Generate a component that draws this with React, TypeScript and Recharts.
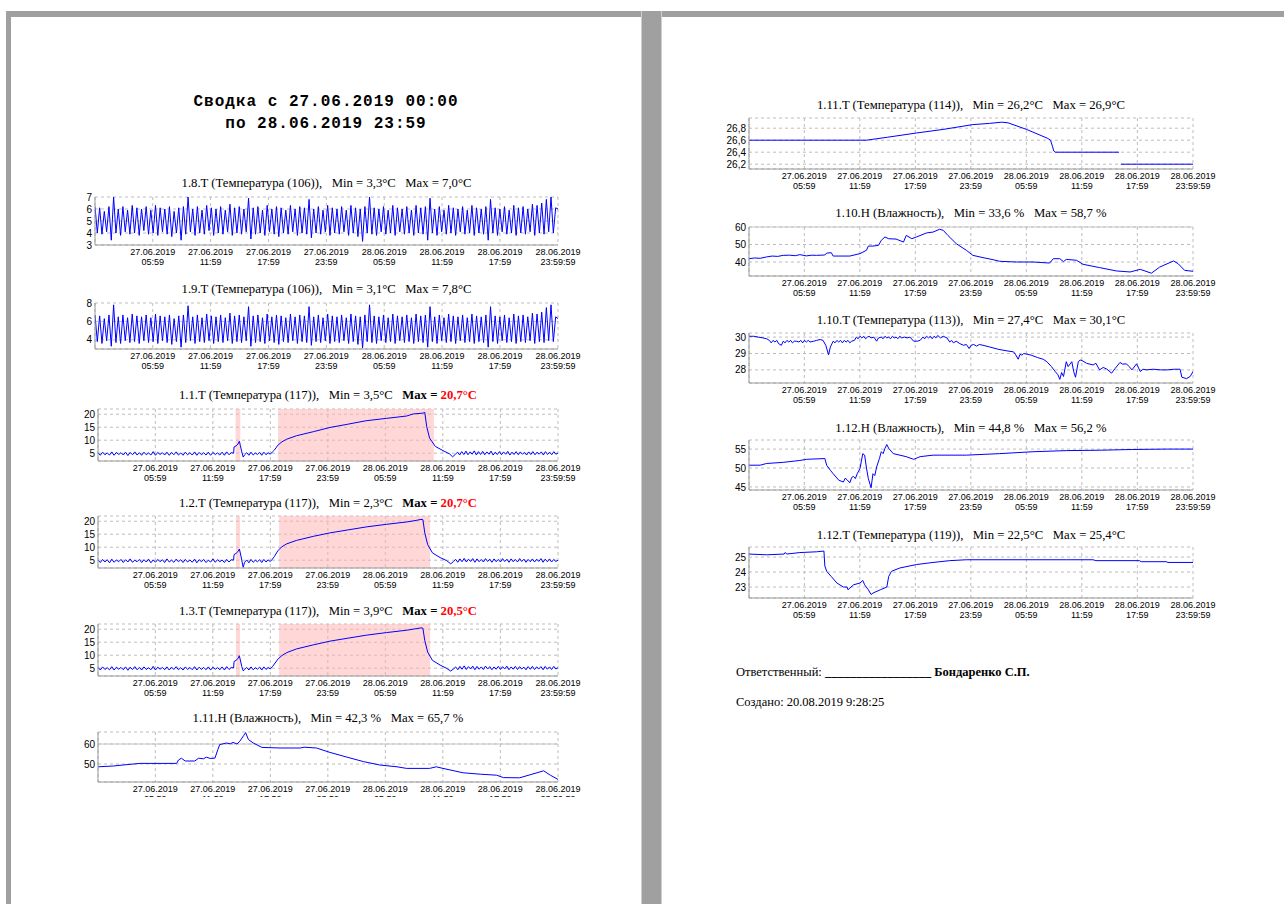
import React from "react";
import {
  LineChart,
  Line,
  XAxis,
  YAxis,
  CartesianGrid,
  ReferenceArea,
  ReferenceLine,
} from "recharts";

// x axis: hours since 27.06.2019 00:00
const tickHours = [5.983, 11.983, 17.983, 23.983, 29.983, 35.983, 41.983, 48];
const tickDates = [
  "27.06.2019", "27.06.2019", "27.06.2019", "27.06.2019",
  "28.06.2019", "28.06.2019", "28.06.2019", "28.06.2019",
];
const tickTimes = ["05:59", "11:59", "17:59", "23:59", "05:59", "11:59", "17:59", "23:59:59"];

// 1.8.T, evenly spaced over 48 h (peak / trough pairs)
const t18Values = [
  6.2, 4.0, 6.1, 3.9, 5.8, 4.1, 6.2, 3.4, 7.0, 4.0, 6.0, 3.8, 6.2, 4.1, 5.9, 3.9, 6.3, 4.0, 6.1, 3.8,
  6.0, 4.2, 6.2, 3.9, 5.9, 4.0, 6.3, 3.8, 6.1, 4.1, 6.0, 3.9, 6.2, 3.7, 5.8, 4.0, 6.1, 3.4, 6.2, 3.9,
  7.0, 4.1, 6.0, 3.8, 6.2, 4.0, 5.9, 3.9, 6.3, 4.2, 6.1, 3.8, 6.0, 4.0, 6.2, 3.9, 5.9, 4.1, 6.4, 3.8,
  6.1, 4.0, 6.2, 3.9, 6.0, 4.1, 6.9, 3.5, 6.1, 3.9, 6.2, 4.0, 5.9, 3.8, 6.3, 4.1, 6.0, 3.9, 6.2, 3.7,
  6.1, 4.0, 5.9, 3.9, 6.3, 4.1, 6.0, 3.8, 6.2, 4.0, 6.1, 3.9, 6.8, 3.6, 6.0, 4.0, 6.2, 3.9, 5.9, 4.1,
  6.3, 3.8, 6.1, 4.0, 6.0, 3.9, 6.2, 4.1, 5.9, 3.8, 6.3, 4.0, 6.1, 3.7, 6.0, 3.3, 6.2, 4.0, 7.0, 3.9,
  6.1, 3.8, 6.0, 4.1, 6.2, 3.9, 5.9, 4.0, 6.3, 3.8, 6.1, 4.1, 6.0, 3.9, 6.2, 4.0, 5.9, 3.8, 6.3, 4.0,
  6.1, 3.9, 6.2, 3.4, 6.9, 4.0, 6.0, 3.8, 6.2, 4.1, 5.9, 3.9, 6.3, 4.0, 6.1, 3.8, 6.0, 4.1, 6.2, 3.9,
  5.9, 4.0, 6.3, 3.8, 6.1, 4.0, 6.0, 3.9, 6.2, 3.4, 6.8, 4.0, 6.1, 3.8, 6.0, 4.1, 6.2, 3.9, 5.9, 4.0,
  6.3, 3.8, 6.1, 4.0, 6.2, 3.9, 6.0, 4.1, 6.4, 3.8, 6.3, 4.0, 6.5, 3.9, 6.8, 4.1, 7.0, 4.0, 6.1, 6.0,
];

// 1.9.T, evenly spaced over 48 h
const t19Values = [
  6.7, 3.8, 6.6, 3.6, 6.3, 3.9, 6.7, 3.3, 7.8, 3.7, 6.5, 3.6, 6.7, 3.9, 6.4, 3.7, 6.8, 3.8, 6.6, 3.6,
  6.5, 3.9, 6.7, 3.7, 6.4, 3.8, 6.8, 3.6, 6.6, 3.9, 6.5, 3.7, 6.7, 3.5, 6.3, 3.8, 6.6, 3.2, 6.7, 3.7,
  7.7, 3.9, 6.5, 3.6, 6.7, 3.8, 6.4, 3.7, 6.8, 3.9, 6.6, 3.6, 6.5, 3.8, 6.7, 3.7, 6.4, 3.9, 6.9, 3.6,
  6.6, 3.8, 6.7, 3.7, 6.5, 3.9, 7.6, 3.3, 6.6, 3.7, 6.7, 3.8, 6.4, 3.6, 6.8, 3.9, 6.5, 3.7, 6.7, 3.5,
  6.6, 3.8, 6.4, 3.7, 6.8, 3.9, 6.5, 3.6, 6.7, 3.8, 6.6, 3.7, 7.6, 3.4, 6.5, 3.8, 6.7, 3.7, 6.4, 3.9,
  6.8, 3.6, 6.6, 3.8, 6.5, 3.7, 6.7, 3.9, 6.4, 3.6, 6.8, 3.8, 6.6, 3.5, 6.5, 3.1, 6.7, 3.8, 7.8, 3.7,
  6.6, 3.6, 6.5, 3.9, 6.7, 3.7, 6.4, 3.8, 6.8, 3.6, 6.6, 3.9, 6.5, 3.7, 6.7, 3.8, 6.4, 3.6, 6.8, 3.8,
  6.6, 3.7, 6.7, 3.2, 7.6, 3.8, 6.5, 3.6, 6.7, 3.9, 6.4, 3.7, 6.8, 3.8, 6.6, 3.6, 6.5, 3.9, 6.7, 3.7,
  6.4, 3.8, 6.8, 3.6, 6.6, 3.8, 6.5, 3.7, 6.7, 3.2, 7.6, 3.8, 6.6, 3.6, 6.5, 3.9, 6.7, 3.7, 6.4, 3.8,
  6.8, 3.6, 6.6, 3.8, 6.7, 3.7, 6.5, 3.9, 6.9, 3.6, 6.8, 3.8, 7.0, 3.7, 7.5, 3.9, 7.8, 3.8, 6.5, 6.3,
];

// 1.1.T
const t11Morning = [
  5.2, 4.2, 5.4, 4.4, 5.1, 4.3, 5.5, 4.2, 5.3, 4.5, 5.2, 4.3, 5.4, 4.1, 5.3, 4.4, 5.5, 4.3, 5.2, 4.2,
  5.4, 4.4, 5.1, 4.3, 5.6, 4.2, 5.3, 4.5, 5.2, 4.3, 5.4, 4.2, 5.3, 4.4, 5.5, 4.3, 5.1, 4.2, 5.4, 4.4,
  5.2, 4.3, 5.5, 4.2, 5.3, 4.4, 5.2, 4.3, 5.4, 4.2, 5.3, 4.5, 5.1, 4.3, 5.4, 4.2, 5.5, 4.4, 5.2, 5.0,
];
const t11Spike: [number, number][] = [
  [14.2, 7.4], [14.4, 7.8], [14.6, 8.5], [14.75, 9.6], [14.85, 8.0], [15.0, 5.5], [15.15, 3.5],
];
const t11Midday = [4.4, 5.2, 4.2, 5.4, 4.3, 5.1, 4.5, 5.3, 4.2, 5.4, 4.4, 5.2, 4.6, 5.5];
const t11Heat: [number, number][] = [
  [18.4, 6.2], [18.8, 8.2], [19.2, 9.4], [19.7, 10.4], [20.7, 11.7], [22.5, 13.3], [24.2, 14.9],
  [26.0, 16.1], [28.0, 17.5], [30.1, 18.4], [32.2, 19.3], [32.9, 20.1], [33.9, 20.4], [34.1, 20.7],
  [34.3, 15.2], [34.6, 10.8], [35.2, 7.6], [36.0, 6.0], [36.7, 4.7], [37.0, 3.6],
];
const t11Late = [
  4.6, 5.4, 4.3, 5.6, 4.5, 5.8, 4.4, 5.5, 4.6, 5.9, 4.3, 5.6, 4.5, 5.7, 4.4, 5.5, 4.6, 5.8, 4.3, 5.4,
  4.5, 5.6, 4.4, 5.5, 4.6, 5.7, 4.3, 5.4, 4.5, 5.6, 4.4, 5.5, 4.6, 5.3, 4.3, 5.5, 4.5, 5.6, 4.4, 5.4,
  4.6, 5.5, 4.3, 5.6, 4.5, 5.4, 4.4, 5.6, 4.6, 5.1,
];

// 1.2.T
const t12Morning = [
  5.0, 4.1, 5.3, 4.3, 5.2, 4.0, 5.4, 4.2, 5.1, 4.4, 5.3, 4.1, 5.2, 4.3, 5.5, 4.2, 5.0, 4.4, 5.3, 4.1,
  5.2, 4.3, 5.4, 4.0, 5.1, 4.2, 5.3, 4.4, 5.2, 4.1, 5.5, 4.3, 5.0, 4.2, 5.4, 4.4, 5.2, 4.1, 5.3, 4.3,
  5.1, 4.2, 5.4, 4.0, 5.2, 4.4, 5.3, 4.1, 5.0, 4.3, 5.5, 4.2, 5.2, 4.4, 5.1, 4.1, 5.3, 4.3, 5.2, 5.0,
];
const t12Spike: [number, number][] = [
  [14.2, 7.2], [14.4, 7.6], [14.6, 8.3], [14.75, 9.3], [14.85, 7.8], [15.0, 5.0], [15.15, 2.3],
];
const t12Midday = [4.2, 5.1, 4.0, 5.3, 4.2, 5.0, 4.4, 5.2, 4.1, 5.3, 4.3, 5.1, 4.5, 5.4];
const t12Heat: [number, number][] = [
  [18.4, 6.4], [18.8, 8.8], [19.2, 10.2], [19.7, 11.3], [20.7, 12.6], [22.5, 14.2], [24.2, 15.5],
  [26.0, 16.6], [28.0, 17.8], [30.1, 18.8], [32.2, 19.7], [33.2, 20.3], [33.7, 20.7], [33.9, 20.6],
  [34.1, 15.5], [34.4, 11.0], [34.9, 7.8], [35.7, 6.0], [36.4, 4.8], [36.8, 3.6],
];
const t12Late = [
  4.5, 5.3, 4.2, 5.5, 4.4, 5.7, 4.3, 5.4, 4.5, 5.6, 4.2, 5.5, 4.4, 5.3, 4.3, 5.6, 4.5, 5.4, 4.2, 5.5,
  4.4, 5.3, 4.3, 5.6, 4.5, 5.4, 4.2, 5.5, 4.4, 5.3, 4.3, 5.6, 4.5, 5.4, 4.2, 5.3, 4.4, 5.5, 4.3, 5.4,
  4.5, 5.6, 4.2, 5.4, 4.4, 5.5, 4.3, 5.3, 4.5, 5.0,
];

// 1.3.T
const t13Morning = [
  5.3, 4.3, 5.5, 4.5, 5.2, 4.4, 5.6, 4.3, 5.4, 4.6, 5.3, 4.4, 5.5, 4.2, 5.4, 4.5, 5.6, 4.4, 5.3, 4.3,
  5.5, 4.5, 5.2, 4.4, 5.7, 4.3, 5.4, 4.6, 5.3, 4.4, 5.5, 4.3, 5.4, 4.5, 5.6, 4.4, 5.2, 4.3, 5.5, 4.5,
  5.3, 4.4, 5.6, 4.3, 5.4, 4.5, 5.3, 4.4, 5.5, 4.3, 5.4, 4.6, 5.2, 4.4, 5.5, 4.3, 5.6, 4.5, 5.3, 5.1,
];
const t13Spike: [number, number][] = [
  [14.2, 7.6], [14.4, 8.0], [14.6, 8.7], [14.75, 9.8], [14.85, 8.2], [15.0, 5.6], [15.15, 4.0],
];
const t13Midday = [4.5, 5.3, 4.3, 5.5, 4.4, 5.2, 4.6, 5.4, 4.3, 5.5, 4.5, 5.3, 4.7, 5.6];
const t13Heat: [number, number][] = [
  [18.4, 6.6], [18.8, 8.6], [19.2, 9.9], [19.7, 11.0], [20.7, 12.4], [22.5, 14.0], [24.2, 15.4],
  [26.0, 16.5], [28.0, 17.7], [30.1, 18.7], [32.2, 19.6], [33.2, 20.2], [33.7, 20.5], [33.9, 20.4],
  [34.1, 15.6], [34.4, 11.2], [34.9, 8.0], [35.7, 6.2], [36.4, 4.9], [36.8, 3.9],
];
const t13Late = [
  4.7, 5.5, 4.4, 5.7, 4.6, 5.9, 4.5, 5.6, 4.7, 5.8, 4.4, 5.7, 4.6, 5.5, 4.5, 5.8, 4.7, 5.6, 4.4, 5.5,
  4.6, 5.7, 4.5, 5.6, 4.7, 5.8, 4.4, 5.5, 4.6, 5.7, 4.5, 5.6, 4.7, 5.4, 4.4, 5.6, 4.6, 5.7, 4.5, 5.5,
  4.7, 5.6, 4.4, 5.7, 4.6, 5.5, 4.5, 5.7, 4.7, 5.2,
];

// 1.11.H  [hour, %]
const h111Points: [number, number][] = [
  [0, 48.6], [1.6, 49.0], [2.6, 49.5], [4.4, 50.3], [8.2, 50.3], [8.4, 52.0], [8.7, 52.9], [9.1, 51.5],
  [10.1, 51.5], [10.5, 52.9], [11.0, 52.6], [11.3, 53.4], [11.7, 52.8], [12.2, 52.9], [12.5, 57.1],
  [12.7, 59.7], [13.4, 60.5], [13.8, 60.1], [14.1, 60.8], [14.5, 60.0], [14.8, 61.4], [15.2, 64.2],
  [15.4, 65.7], [15.7, 62.2], [16.2, 60.5], [17.1, 58.3], [19.0, 58.0], [21.1, 58.0], [21.5, 58.4],
  [22.8, 58.0], [24.2, 55.8], [26.0, 53.4], [27.7, 51.2], [29.4, 49.5], [31.2, 48.6], [32.2, 47.8],
  [34.6, 47.8], [35.3, 48.6], [36.0, 47.8], [38.1, 45.6], [39.9, 44.9], [41.6, 44.4], [42.3, 43.2],
  [44.0, 43.1], [45.8, 45.6], [46.5, 46.6], [47.2, 44.4], [48.0, 42.3],
];

// 1.11.T  [hour, °C], null = no data
const t111Points: [number, number | null][] = [
  [0, 26.6], [12.7, 26.6], [15.0, 26.65], [18.1, 26.72], [21.0, 26.78], [24.2, 26.86], [26.0, 26.88],
  [27.3, 26.9], [28.0, 26.89], [30.0, 26.78], [32.3, 26.63], [32.6, 26.6], [32.8, 26.5], [32.95, 26.42],
  [33.1, 26.4], [40.0, 26.4], [40.1, null], [40.2, 26.2], [48.0, 26.2],
];

// 1.10.H
const h110Points: [number, number][] = [
  [0, 41.9], [0.6, 42.3], [1.2, 42.1], [1.9, 42.9], [2.5, 43.4], [3.1, 43.2], [3.7, 43.8], [4.4, 43.9],
  [5.0, 43.6], [5.5, 44.2], [6.2, 43.5], [6.8, 43.9], [7.3, 43.8], [8.2, 44.0], [8.4, 45.1], [8.9, 45.3],
  [9.1, 43.4], [10.9, 43.4], [12.0, 44.8], [12.7, 46.7], [12.9, 49.1], [13.4, 49.1], [14.0, 49.5],
  [14.3, 52.4], [14.7, 54.3], [15.1, 53.3], [15.9, 53.1], [16.7, 51.4], [17.0, 55.2], [17.6, 53.3],
  [18.1, 54.3], [19.2, 56.6], [19.9, 57.1], [20.6, 58.7], [21.0, 58.1], [21.5, 55.2], [22.4, 50.5],
  [23.5, 46.7], [24.2, 43.8], [25.3, 42.5], [26.4, 41.3], [27.1, 40.4], [28.9, 40.0], [30.7, 40.0],
  [32.5, 39.4], [32.9, 41.9], [33.6, 41.9], [34.0, 40.2], [34.3, 41.5], [35.4, 41.0], [36.1, 38.7],
  [37.9, 36.8], [39.7, 34.9], [41.2, 34.3], [42.3, 35.8], [43.5, 33.6], [44.4, 37.1], [45.9, 40.6],
  [46.4, 39.0], [47.1, 35.2], [48.0, 34.7],
];

// 1.10.T
const t110Points: [number, number][] = [
  [0, 30.05], [0.5, 30.05], [1.0, 30.0], [1.5, 29.95], [1.9, 29.9], [2.2, 29.8], [2.4, 29.65], [2.6, 29.8],
  [2.8, 29.7], [3.0, 29.8], [3.2, 29.6], [3.5, 29.5], [3.7, 29.75], [3.9, 29.65], [4.1, 29.8], [4.3, 29.7],
  [4.5, 29.8], [4.7, 29.65], [4.9, 29.75], [5.1, 29.75], [5.4, 29.7], [5.6, 29.8], [5.8, 29.65], [6.0, 29.8],
  [6.2, 29.7], [6.4, 29.8], [6.6, 29.7], [7.0, 29.75], [7.3, 29.8], [7.7, 29.85], [8.0, 29.8], [8.3, 29.5],
  [8.6, 28.92], [8.8, 29.4], [9.1, 29.75], [9.3, 29.65], [9.5, 29.8], [9.7, 29.7], [9.9, 29.8], [10.1, 29.65],
  [10.3, 29.8], [10.5, 29.7], [10.7, 29.8], [10.9, 29.65], [11.1, 29.75], [11.4, 29.8], [11.6, 30.0],
  [11.8, 29.9], [12.0, 30.05], [12.2, 29.95], [12.4, 30.05], [12.6, 29.9], [12.8, 30.0], [13.0, 30.05],
  [13.2, 29.95], [13.5, 30.0], [13.8, 29.75], [14.0, 29.95], [14.3, 30.0], [14.5, 29.9], [14.7, 30.05],
  [14.9, 29.95], [15.1, 30.0], [15.3, 29.9], [15.5, 30.05], [15.7, 29.95], [15.9, 30.0], [16.1, 29.9],
  [16.3, 30.05], [16.5, 29.95], [16.8, 30.0], [17.1, 29.95], [17.4, 30.0], [17.8, 29.75], [18.2, 29.75],
  [18.5, 29.8], [18.8, 30.0], [19.0, 29.9], [19.2, 30.05], [19.4, 29.95], [19.6, 30.05], [19.8, 29.9],
  [20.0, 30.05], [20.2, 29.95], [20.4, 30.1], [20.7, 29.95], [21.0, 30.05], [21.4, 29.95], [21.7, 29.7],
  [21.9, 29.8], [22.1, 29.65], [22.4, 29.75], [22.8, 29.6], [23.2, 29.5], [23.5, 29.55], [23.8, 29.3],
  [24.0, 29.5], [24.3, 29.55], [24.6, 29.45], [24.9, 29.55], [25.3, 29.5], [26.0, 29.4], [27.0, 29.25],
  [28.0, 29.15], [28.6, 29.1], [28.8, 28.95], [29.1, 28.65], [29.3, 28.95], [29.5, 28.9], [29.7, 29.0],
  [30.5, 28.9], [31.2, 28.75], [31.8, 28.65], [32.2, 28.5], [32.7, 28.2], [33.1, 27.9], [33.4, 27.7],
  [33.6, 27.42], [33.8, 27.84], [34.0, 27.6], [34.3, 28.5], [34.5, 28.2], [34.9, 28.5], [35.1, 27.9],
  [35.3, 27.55], [35.6, 28.5], [35.8, 28.6], [36.0, 28.57], [36.5, 28.4], [37.2, 28.3], [37.5, 28.4],
  [37.9, 28.0], [38.3, 28.15], [38.7, 28.04], [39.2, 27.8], [39.6, 28.1], [40.1, 28.45], [40.4, 28.35],
  [40.8, 28.37], [41.1, 28.2], [41.4, 28.0], [41.9, 28.37], [42.3, 27.9], [42.6, 28.04], [43.0, 28.0],
  [43.7, 28.04], [44.5, 28.0], [45.2, 28.0], [46.0, 28.04], [46.6, 28.04], [46.8, 27.55], [47.3, 27.47],
  [47.7, 27.6], [48.0, 27.9],
];

// 1.12.H
const h112Points: [number, number][] = [
  [0, 50.75], [1.2, 50.75], [1.9, 51.2], [3.7, 51.5], [5.5, 52.0], [6.2, 52.3], [8.2, 52.5], [8.4, 50.75],
  [8.8, 49.4], [9.1, 48.5], [9.7, 46.8], [10.2, 46.3], [10.4, 47.3], [10.6, 46.9], [10.9, 46.1],
  [11.1, 47.5], [11.3, 47.8], [11.5, 47.2], [11.7, 48.5], [12.0, 49.9], [12.3, 53.8], [12.5, 53.4],
  [12.7, 50.0], [12.9, 47.2], [13.2, 44.8], [13.4, 48.5], [13.6, 48.0], [13.8, 50.3], [14.1, 52.5],
  [14.3, 54.3], [14.5, 53.8], [14.7, 55.2], [14.9, 56.2], [15.1, 55.2], [15.6, 53.8], [17.0, 53.0],
  [17.8, 52.3], [18.5, 53.0], [19.9, 53.4], [23.5, 53.4], [27.1, 53.8], [30.7, 54.3], [34.3, 54.6],
  [37.9, 54.7], [41.5, 54.9], [45.1, 55.0], [48.0, 55.0],
];

// 1.12.T
const t112Points: [number, number][] = [
  [0, 25.2], [1.9, 25.15], [3.8, 25.2], [3.9, 25.3], [4.1, 25.2], [5.5, 25.3], [7.3, 25.35], [8.1, 25.4],
  [8.2, 24.4], [8.4, 24.05], [8.9, 23.7], [9.5, 23.27], [10.2, 23.0], [10.6, 23.0], [10.7, 22.82],
  [11.3, 23.15], [12.0, 23.27], [12.3, 23.44], [12.5, 23.15], [12.9, 22.82], [13.2, 22.5], [13.4, 22.6],
  [14.2, 22.82], [14.9, 23.0], [15.1, 23.7], [15.4, 24.05], [16.3, 24.27], [18.1, 24.5], [19.9, 24.64],
  [21.7, 24.76], [23.5, 24.82], [30.7, 24.82], [34.3, 24.82], [37.2, 24.82], [37.5, 24.76], [42.2, 24.76],
  [42.4, 24.69], [45.1, 24.69], [45.3, 24.64], [48.0, 24.64],
];

type Pt = { t: number; v: number | null };

const spread = (values: number[], t0: number, t1: number): Pt[] =>
  values.map((v, i) => ({ t: t0 + ((t1 - t0) * i) / (values.length - 1), v }));
const pairs = (list: [number, number | null][]): Pt[] => list.map(([t, v]) => ({ t, v }));

const data18 = spread(t18Values, 0, 48);
const data19 = spread(t19Values, 0, 48);
const data11 = [
  ...spread(t11Morning, 0, 14.15), ...pairs(t11Spike), ...spread(t11Midday, 15.3, 18.2),
  ...pairs(t11Heat), ...spread(t11Late, 37.3, 48),
];
const data12 = [
  ...spread(t12Morning, 0, 14.15), ...pairs(t12Spike), ...spread(t12Midday, 15.3, 18.2),
  ...pairs(t12Heat), ...spread(t12Late, 37.1, 48),
];
const data13 = [
  ...spread(t13Morning, 0, 14.15), ...pairs(t13Spike), ...spread(t13Midday, 15.3, 18.2),
  ...pairs(t13Heat), ...spread(t13Late, 37.1, 48),
];

const SANS = "'Liberation Sans', Arial, sans-serif";
const SERIF = "'Liberation Serif', 'Times New Roman', serif";
const GRAY = "#a0a0a0";

function TimeTick(props: any) {
  const { x, y, payload } = props;
  const i = tickHours.indexOf(payload.value);
  return (
    <text x={x} y={y} textAnchor="middle" fontSize={9} fill="#000" fontFamily={SANS}>
      <tspan x={x} dy={10}>{tickDates[i]}</tspan>
      <tspan x={x} dy={10}>{tickTimes[i]}</tspan>
    </text>
  );
}

interface MiniProps {
  data: Pt[];
  domain: [number, number];
  yTicks: number[];
  plotLeft: number;
  plotRight: number;
  plotTop: number;
  plotBottom: number;
  areas?: [number, number][];
  limit?: number;
}

function MiniChart({ data, domain, yTicks, plotLeft, plotRight, plotTop, plotBottom, areas = [], limit }: MiniProps) {
  const axisW = 36;
  const left = plotLeft - axisW;
  const width = plotRight - left + 30;
  const height = plotBottom - plotTop + 5 + 24;
  return (
    <div style={{ position: "absolute", left, top: plotTop - 5 }}>
      <LineChart width={width} height={height} data={data} margin={{ top: 5, right: 30, bottom: 0, left: 0 }}>
        <CartesianGrid stroke="#bdbdbd" strokeDasharray="3 3" />
        {areas.map(([a, b]) => (
          <ReferenceArea key={a} x1={a} x2={b} fill="#ffb0b0" fillOpacity={0.5} stroke="none" ifOverflow="hidden" />
        ))}
        {limit !== undefined && <ReferenceLine y={limit} stroke="#c4c4c4" />}
        <XAxis
          type="number"
          dataKey="t"
          domain={[0, 48]}
          ticks={tickHours}
          interval={0}
          tickLine={false}
          tickSize={0}
          tickMargin={0}
          height={24}
          axisLine={{ stroke: "#999" }}
          tick={(p: any) => <TimeTick {...p} />}
          allowDataOverflow
        />
        <YAxis
          type="number"
          domain={domain}
          ticks={yTicks}
          interval={0}
          width={axisW}
          tickLine={false}
          tickSize={0}
          tickMargin={3}
          axisLine={{ stroke: "#999" }}
          tick={{ fontSize: 10, fill: "#000", fontFamily: SANS }}
          tickFormatter={(v: number) => String(v).replace(".", ",")}
          allowDataOverflow
        />
        <Line
          type="linear"
          dataKey="v"
          stroke="#0000ff"
          strokeWidth={1}
          dot={false}
          isAnimationActive={false}
          connectNulls={false}
        />
      </LineChart>
    </div>
  );
}

function Title({ y, left, right, children }: { y: number; left: number; right: number; children: React.ReactNode }) {
  return (
    <div
      style={{
        position: "absolute",
        left,
        width: right - left,
        top: y - 8,
        lineHeight: "16px",
        textAlign: "center",
        fontFamily: SERIF,
        fontSize: 12.7,
        whiteSpace: "pre",
        color: "#000",
      }}
    >
      {children}
    </div>
  );
}

function HotMax({ value }: { value: string }) {
  return (
    <b>
      Max = <span style={{ color: "#ff0000" }}>{value}°C</span>
    </b>
  );
}

export default function App() {
  const L0 = 98;
  const L1 = 558;
  const R0 = 749;
  const R1 = 1193;
  return (
    <div style={{ position: "absolute", left: 0, top: 0, width: 1284, height: 904, background: "#fff", overflow: "hidden" }}>
      {/* grey frame between the two pages */}
      <div style={{ position: "absolute", left: 6, top: 11, width: 1278, height: 6, background: GRAY }} />
      <div style={{ position: "absolute", left: 6, top: 11, width: 5, height: 893, background: GRAY }} />
      <div style={{ position: "absolute", left: 641, top: 11, width: 21, height: 893, background: GRAY, borderLeft: "1px solid #cfcfcf", borderRight: "1px solid #cfcfcf", boxSizing: "border-box" }} />

      {/* heading */}
      <div
        style={{
          position: "absolute",
          left: 11,
          width: 630,
          top: 91,
          textAlign: "center",
          fontFamily: "'Liberation Mono', 'Courier New', monospace",
          fontWeight: "bold",
          fontSize: 16,
          letterSpacing: 1,
          lineHeight: "22px",
          color: "#000",
        }}
      >
        <div>Сводка с 27.06.2019 00:00</div>
        <div>по 28.06.2019 23:59</div>
      </div>

      {/* left page */}
      <Title y={183} left={95} right={L1}>1.8.T (Температура (106)),   Min = 3,3°C   Max = 7,0°C</Title>
      <MiniChart data={data18} domain={[3, 7]} yTicks={[3, 4, 5, 6, 7]} plotLeft={95} plotRight={L1} plotTop={197} plotBottom={245} />

      <Title y={289} left={95} right={L1}>1.9.T (Температура (106)),   Min = 3,1°C   Max = 7,8°C</Title>
      <MiniChart data={data19} domain={[3, 8]} yTicks={[4, 6, 8]} plotLeft={95} plotRight={L1} plotTop={303} plotBottom={349} />

      <Title y={395} left={L0} right={L1}>
        1.1.T (Температура (117)),   Min = 3,5°C   <HotMax value="20,7" />
      </Title>
      <MiniChart
        data={data11}
        domain={[2, 22]}
        yTicks={[5, 10, 15, 20]}
        plotLeft={L0}
        plotRight={L1}
        plotTop={409}
        plotBottom={461}
        areas={[[14.35, 14.85], [18.8, 35.05]]}
      />

      <Title y={503} left={L0} right={L1}>
        1.2.T (Температура (117)),   Min = 2,3°C   <HotMax value="20,7" />
      </Title>
      <MiniChart
        data={data12}
        domain={[2, 22]}
        yTicks={[5, 10, 15, 20]}
        plotLeft={L0}
        plotRight={L1}
        plotTop={516}
        plotBottom={568}
        areas={[[14.4, 14.82], [18.9, 34.65]]}
      />

      <Title y={611} left={L0} right={L1}>
        1.3.T (Температура (117)),   Min = 3,9°C   <HotMax value="20,5" />
      </Title>
      <MiniChart
        data={data13}
        domain={[2, 22]}
        yTicks={[5, 10, 15, 20]}
        plotLeft={L0}
        plotRight={L1}
        plotTop={624}
        plotBottom={676}
        areas={[[14.4, 14.82], [18.9, 34.65]]}
      />

      <Title y={718} left={L0} right={L1}>1.11.H (Влажность),   Min = 42,3 %   Max = 65,7 %</Title>
      <div style={{ position: "absolute", left: 0, top: 0, width: 640, height: 797, overflow: "hidden" }}>
        <MiniChart data={pairs(h111Points)} domain={[41, 66]} yTicks={[50, 60]} plotLeft={L0} plotRight={L1} plotTop={732} plotBottom={782} limit={60} />
      </div>

      {/* right page */}
      <Title y={105} left={R0} right={R1}>1.11.T (Температура (114)),   Min = 26,2°C   Max = 26,9°C</Title>
      <MiniChart data={pairs(t111Points)} domain={[26.12, 26.97]} yTicks={[26.2, 26.4, 26.6, 26.8]} plotLeft={R0} plotRight={R1} plotTop={118} plotBottom={169} />

      <Title y={213} left={R0} right={R1}>1.10.H (Влажность),   Min = 33,6 %   Max = 58,7 %</Title>
      <MiniChart data={pairs(h110Points)} domain={[32, 60]} yTicks={[40, 50, 60]} plotLeft={R0} plotRight={R1} plotTop={227} plotBottom={276} limit={60} />

      <Title y={320} left={R0} right={R1}>1.10.T (Температура (113)),   Min = 27,4°C   Max = 30,1°C</Title>
      <MiniChart data={pairs(t110Points)} domain={[27.2, 30.25]} yTicks={[28, 29, 30]} plotLeft={R0} plotRight={R1} plotTop={333} plotBottom={383} />

      <Title y={428} left={R0} right={R1}>1.12.H (Влажность),   Min = 44,8 %   Max = 56,2 %</Title>
      <MiniChart data={pairs(h112Points)} domain={[44.2, 57.4]} yTicks={[45, 50, 55]} plotLeft={R0} plotRight={R1} plotTop={440} plotBottom={490} />

      <Title y={535} left={R0} right={R1}>1.12.T (Температура (119)),   Min = 22,5°C   Max = 25,4°C</Title>
      <MiniChart data={pairs(t112Points)} domain={[22.27, 25.67]} yTicks={[23, 24, 25]} plotLeft={R0} plotRight={R1} plotTop={547} plotBottom={598} />

      {/* footer */}
      <div style={{ position: "absolute", left: 736, top: 664, fontFamily: SERIF, fontSize: 12.5, lineHeight: "16px", whiteSpace: "pre", color: "#000" }}>
        Ответственный: <b>_________________ Бондаренко С.П.</b>
      </div>
      <div style={{ position: "absolute", left: 736, top: 694, fontFamily: SERIF, fontSize: 12.5, lineHeight: "16px", whiteSpace: "pre", color: "#000" }}>
        Создано: 20.08.2019 9:28:25
      </div>
    </div>
  );
}
